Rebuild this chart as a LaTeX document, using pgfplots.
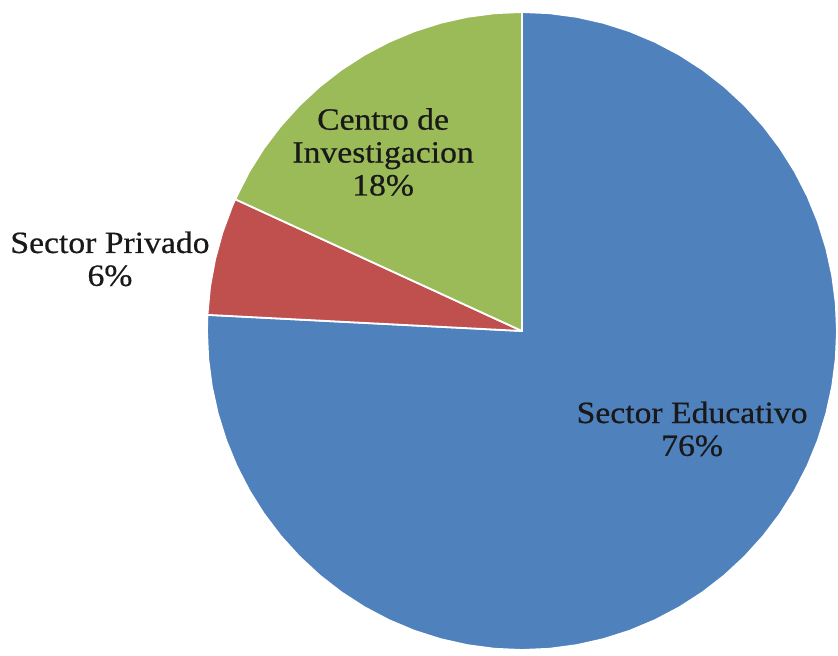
\documentclass[border=0pt]{standalone}
\usepackage{pgfplots}
\pgfplotsset{compat=1.18}
\usepackage{fontspec}
\setmainfont[FakeStretch=1.09, FakeBold=0.6]{Liberation Serif}
\definecolor{pBlue}{HTML}{4F81BD}
\definecolor{pRed}{HTML}{C0504D}
\definecolor{pGreen}{HTML}{9BBB59}
\tikzset{slicelabel/.style={align=center, font=\fontsize{31}{33}\selectfont, text=black!90}}
\begin{document}
\begin{tikzpicture}
\useasboundingbox (0,0) rectangle (838bp,656bp);
\begin{axis}[
    at={(522bp,325bp)}, anchor=center,
    scale only axis,
    width=630bp, height=638bp,
    xmin=-1, xmax=1, ymin=-1, ymax=1,
    hide axis, clip=false,
    data cs=polar,
    every axis plot/.append style={draw=white, line width=1.8bp, line join=round, mark=none}
]
% Sector Educativo (clockwise from 12 o'clock)
\addplot[fill=pBlue] coordinates {(0,0)
  (90,1)(85,1)(80,1)(75,1)(70,1)(65,1)(60,1)(55,1)(50,1)(45,1)(40,1)(35,1)(30,1)
  (25,1)(20,1)(15,1)(10,1)(5,1)(0,1)(-5,1)(-10,1)(-15,1)(-20,1)(-25,1)(-30,1)
  (-35,1)(-40,1)(-45,1)(-50,1)(-55,1)(-60,1)(-65,1)(-70,1)(-75,1)(-80,1)(-85,1)
  (-90,1)(-95,1)(-100,1)(-105,1)(-110,1)(-115,1)(-120,1)(-125,1)(-130,1)(-135,1)
  (-140,1)(-145,1)(-150,1)(-155,1)(-160,1)(-165,1)(-170,1)(-175,1)(-180,1)(-182.9,1)} -- cycle;
% Sector Privado
\addplot[fill=pRed] coordinates {(0,0)
  (-182.9,1)(-188,1)(-193,1)(-198,1)(-203,1)(-204.4,1)} -- cycle;
% Centro de Investigacion
\addplot[fill=pGreen] coordinates {(0,0)
  (-204.4,1)(-210,1)(-215,1)(-220,1)(-225,1)(-230,1)(-235,1)(-240,1)(-245,1)
  (-250,1)(-255,1)(-260,1)(-265,1)(-270,1)} -- cycle;

\node[slicelabel] at (axis cs:0.540,-0.307) {Sector Educativo\\76\%};
\node[slicelabel] at (axis cs:-0.441,0.561) {Centro de\\Investigacion\\18\%};
\node[slicelabel] at (axis cs:-1.308,0.226) {Sector Privado\\6\%};
\end{axis}
\end{tikzpicture}
\end{document}
